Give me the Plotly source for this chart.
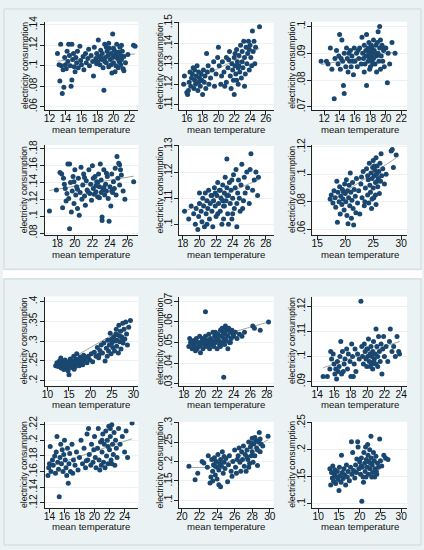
import plotly.graph_objects as go

# ---------------- data ----------------
p1 = [(13.0,.112),(13.2,.101),(13.3,.085),(13.4,.121),(13.5,.100),(13.6,.073),(13.7,.096),(13.8,.079),(13.9,.108),(14.0,.101),
      (14.1,.097),(14.2,.114),(14.3,.104),(14.4,.121),(14.5,.110),(14.6,.100),(14.7,.080),(14.8,.121),(14.8,.086),(14.9,.106),
      (15.0,.112),(15.1,.099),(15.2,.094),(15.3,.108),(15.4,.103),(15.5,.114),(15.6,.098),(15.8,.119),(15.9,.105),(16.0,.101),
      (16.2,.109),(16.3,.096),(16.5,.112),(16.6,.103),(16.8,.107),(17.0,.100),(17.2,.110),(17.4,.104),(17.5,.090),(17.6,.118),
      (17.8,.107),(17.9,.112),(18.0,.104),(18.1,.125),(18.2,.109),(18.3,.101),(18.4,.115),(18.5,.106),(18.6,.112),(18.7,.098),
      (18.8,.076),(18.9,.121),(19.0,.108),(19.1,.103),(19.2,.114),(19.3,.110),(19.4,.099),(19.5,.117),(19.6,.106),(19.7,.112),
      (19.8,.093),(19.9,.131),(19.9,.108),(20.0,.103),(20.1,.115),(20.2,.110),(20.3,.100),(20.4,.121),(20.5,.107),(20.6,.113),
      (20.7,.104),(20.8,.118),(20.9,.101),(20.9,.110),(21.0,.106),(21.1,.114),(21.2,.097),(21.3,.095),(21.3,.109),(21.5,.103),
      (21.8,.111),(22.5,.120),(22.7,.119),(20.2,.094),(19.4,.122),(18.9,.104),(20.6,.098),(17.9,.102),(16.9,.116),(20.0,.117),
      (19.7,.101),(20.4,.109),(20.8,.104),(21.0,.120),(18.4,.108),(19.1,.118),(20.3,.112)]
p2 = [(15.6,.120),(15.7,.124),(16.0,.116),(16.1,.115),(16.2,.117),(16.3,.121),(16.4,.126),(16.5,.119),(16.6,.123),(16.7,.125),
      (16.8,.128),(16.9,.118),(17.0,.122),(17.0,.127),(17.1,.120),(17.2,.124),(17.3,.129),(17.4,.117),(17.5,.121),(17.5,.126),
      (17.6,.123),(17.7,.119),(17.8,.125),(17.9,.122),(18.0,.115),(18.1,.127),(18.2,.121),(18.3,.124),(18.4,.118),(18.5,.135),
      (18.6,.126),(18.7,.129),(18.8,.120),(19.0,.123),(19.2,.127),(19.4,.131),(19.5,.119),(19.7,.125),(19.9,.133),(20.0,.138),
      (20.1,.129),(20.3,.120),(20.5,.131),(20.7,.126),(20.8,.119),(21.0,.133),(21.2,.128),(21.4,.136),(21.5,.124),(21.6,.118),
      (21.7,.130),(21.8,.127),(21.9,.122),(22.0,.133),(22.0,.115),(22.1,.129),(22.2,.125),(22.3,.137),(22.4,.131),(22.5,.120),
      (22.5,.128),(22.6,.134),(22.7,.126),(22.8,.139),(22.9,.123),(23.0,.131),(23.0,.136),(23.1,.128),(23.2,.141),(23.3,.133),
      (23.4,.125),(23.5,.138),(23.6,.130),(23.7,.135),(23.8,.141),(23.9,.127),(24.0,.139),(24.1,.133),(24.2,.129),(24.3,.146),
      (24.4,.136),(24.5,.141),(24.7,.138),(25.2,.148),(22.3,.122),(21.3,.132),(23.3,.119),(22.6,.129),(20.4,.124),(24.6,.130),
      (23.9,.137),(22.1,.135),(21.0,.121)]
p3 = [(11.6,.087),(12.3,.087),(12.5,.086),(12.8,.092),(13.0,.084),(13.3,.073),(13.4,.088),(13.6,.091),(13.8,.086),(13.9,.089),
      (14.0,.097),(14.1,.084),(14.2,.088),(14.3,.095),(14.4,.087),(14.5,.078),(14.6,.075),(14.6,.090),(14.8,.085),(14.9,.092),
      (15.0,.088),(15.1,.083),(15.2,.090),(15.3,.087),(15.4,.091),(15.5,.085),(15.6,.089),(15.8,.082),(15.9,.092),(16.0,.087),
      (16.2,.090),(16.3,.085),(16.5,.088),(16.6,.092),(16.8,.086),(16.9,.096),(17.0,.090),(17.1,.088),(17.2,.093),(17.3,.086),
      (17.4,.091),(17.5,.097),(17.5,.078),(17.6,.089),(17.7,.092),(17.7,.087),(17.8,.094),(17.8,.090),(17.9,.088),(18.0,.091),
      (18.0,.085),(18.1,.093),(18.1,.089),(18.2,.087),(18.2,.092),(18.3,.090),(18.4,.095),(18.4,.088),(18.5,.091),(18.6,.086),
      (18.7,.093),(18.8,.089),(18.9,.094),(19.0,.098),(19.0,.090),(19.1,.087),(19.2,.100),(19.2,.092),(19.3,.084),(19.4,.089),
      (19.5,.093),(19.6,.087),(19.7,.091),(19.8,.085),(20.0,.092),(20.2,.079),(20.3,.090),(20.5,.086),(20.8,.094),(21.2,.090),
      (17.9,.084),(18.6,.090),(17.4,.089),(19.3,.095),(18.3,.086),(17.2,.083),(16.4,.091),(15.7,.087),(19.8,.092),(18.8,.083)]
p4 = [(17.1,.106),(17.9,.131),(18.3,.152),(18.5,.150),(18.6,.110),(18.7,.145),(18.8,.138),(18.9,.133),(19.0,.118),(19.1,.127),
      (19.2,.162),(19.3,.121),(19.4,.085),(19.4,.162),(19.5,.140),(19.6,.105),(19.7,.130),(19.8,.147),(19.9,.115),(20.0,.155),
      (20.1,.125),(20.2,.135),(20.3,.109),(20.4,.145),(20.5,.101),(20.6,.128),(20.7,.158),(20.8,.120),(20.9,.137),(21.0,.150),
      (21.1,.124),(21.2,.113),(21.3,.142),(21.4,.131),(21.6,.155),(21.7,.127),(21.8,.138),(21.9,.119),(22.0,.160),(22.1,.133),
      (22.2,.126),(22.3,.147),(22.4,.129),(22.5,.141),(22.6,.123),(22.7,.150),(22.8,.135),(22.9,.162),(23.0,.128),(23.0,.143),
      (23.1,.095),(23.1,.099),(23.2,.131),(23.3,.155),(23.4,.125),(23.5,.138),(23.6,.130),(23.7,.147),(23.8,.121),(23.9,.094),
      (24.0,.135),(24.1,.112),(24.2,.150),(24.3,.128),(24.4,.141),(24.5,.133),(24.6,.157),(24.7,.125),(24.8,.171),(24.9,.145),
      (25.0,.163),(25.1,.137),(25.2,.155),(25.3,.149),(25.5,.130),(25.7,.120),(26.7,.141),(22.6,.140),(22.1,.145),(23.3,.134),
      (22.8,.122),(24.2,.130),(21.5,.129),(20.3,.132),(25.1,.161),(23.6,.151),(22.4,.136),(19.9,.141),(21.1,.146)]
p5 = [(18.2,.105),(18.7,.102),(19.0,.107),(19.3,.104),(19.5,.100),(19.6,.106),(19.8,.098),(19.9,.103),(20.0,.108),(20.0,.112),
      (20.2,.105),(20.3,.101),(20.4,.110),(20.5,.107),(20.6,.099),(20.7,.112),(20.8,.104),(20.9,.109),(21.0,.106),(21.1,.113),
      (21.2,.102),(21.3,.108),(21.4,.111),(21.5,.105),(21.6,.099),(21.7,.109),(21.8,.114),(21.9,.107),(22.0,.103),(22.1,.111),
      (22.2,.116),(22.3,.108),(22.4,.113),(22.5,.105),(22.6,.110),(22.7,.100),(22.8,.115),(22.9,.107),(23.0,.112),(23.1,.118),
      (23.2,.109),(23.3,.114),(23.3,.125),(23.4,.104),(23.5,.111),(23.6,.116),(23.7,.108),(23.8,.113),(23.9,.102),(24.0,.110),
      (24.1,.119),(24.2,.106),(24.3,.114),(24.4,.121),(24.5,.108),(24.6,.112),(24.7,.117),(24.8,.110),(24.9,.105),(25.0,.115),
      (25.1,.123),(25.3,.109),(25.4,.118),(25.5,.112),(25.7,.120),(25.8,.114),(26.0,.108),(26.1,.121),(26.2,.127),(26.4,.113),
      (26.6,.117),(26.8,.120),(27.0,.111),(27.1,.118),(22.5,.113),(22.9,.102),(23.5,.100),(23.0,.107),(22.2,.104),(24.5,.099),
      (21.9,.112),(20.9,.100),(25.2,.106),(23.9,.117),(22.8,.109),(21.5,.111),(24.0,.104),(23.3,.111)]
p6 = [(17.3,.082),(17.5,.085),(17.8,.079),(18.0,.088),(18.2,.083),(18.3,.076),(18.5,.095),(18.6,.065),(18.7,.087),(18.9,.080),
      (19.0,.091),(19.1,.071),(19.2,.084),(19.4,.078),(19.5,.089),(19.6,.082),(19.8,.074),(19.9,.093),(20.0,.086),(20.1,.080),
      (20.2,.096),(20.3,.070),(20.4,.088),(20.5,.064),(20.6,.083),(20.7,.092),(20.8,.077),(20.9,.101),(21.0,.087),(21.1,.068),
      (21.2,.081),(21.3,.094),(21.4,.075),(21.5,.063),(21.6,.089),(21.8,.084),(22.0,.097),(22.2,.079),(22.4,.088),(22.6,.071),
      (22.8,.093),(23.0,.083),(23.2,.102),(23.4,.077),(23.6,.090),(23.8,.104),(24.0,.085),(24.1,.096),(24.2,.079),(24.3,.108),
      (24.4,.092),(24.5,.087),(24.6,.101),(24.7,.075),(24.8,.097),(24.9,.105),(25.0,.090),(25.0,.110),(25.1,.083),(25.2,.099),
      (25.3,.103),(25.4,.094),(25.5,.112),(25.5,.078),(25.6,.100),(25.7,.106),(25.8,.091),(25.9,.097),(26.0,.102),(26.1,.086),
      (26.2,.108),(26.3,.095),(26.5,.099),(26.7,.104),(27.0,.093),(27.3,.100),(28.2,.117),(28.4,.118),(28.6,.105),(29.1,.114),
      (25.2,.106),(24.8,.082),(25.7,.095),(24.0,.099),(26.4,.115),(23.5,.080),(22.9,.098),(21.9,.072),(19.7,.087),(25.4,.085)]
p7 = [(11.9,.238),(12.2,.245),(12.5,.236),(12.8,.250),(13.0,.242),(13.2,.232),(13.4,.247),(13.6,.239),(13.8,.228),(14.0,.244),
      (14.1,.252),(14.3,.236),(14.5,.241),(14.7,.230),(14.9,.248),(15.0,.215),(15.1,.238),(15.3,.255),(15.5,.243),(15.6,.233),
      (15.8,.249),(16.0,.240),(16.1,.262),(16.3,.246),(16.5,.236),(16.6,.255),(16.8,.268),(17.0,.243),(17.2,.251),(17.4,.238),
      (17.6,.260),(17.8,.247),(18.0,.257),(18.2,.240),(18.4,.264),(18.6,.250),(18.9,.258),(19.2,.245),(19.5,.262),(19.8,.253),
      (20.2,.268),(20.5,.248),(20.9,.272),(21.3,.262),(21.6,.284),(21.9,.258),(22.2,.276),(22.5,.290),(22.8,.270),(23.1,.295),
      (23.4,.250),(23.7,.282),(24.0,.302),(24.2,.275),(24.4,.290),(24.6,.320),(24.8,.268),(25.0,.296),(25.2,.284),(25.4,.310),
      (25.6,.275),(25.8,.300),(26.0,.330),(26.1,.287),(26.3,.315),(26.5,.270),(26.6,.340),(26.8,.298),(27.0,.325),(27.1,.280),
      (27.3,.310),(27.5,.345),(27.6,.295),(27.8,.330),(28.0,.305),(28.2,.348),(28.4,.318),(28.6,.290),(28.9,.335),(29.3,.352),
      (26.9,.312),(25.9,.318),(27.4,.300),(24.9,.305),(26.2,.302),(23.9,.262),(22.0,.265),(14.8,.225),(13.1,.257),(16.2,.229)]
p8 = [(18.6,.048),(18.7,.052),(18.8,.050),(19.0,.047),(19.1,.049),(19.2,.051),(19.3,.048),(19.4,.050),(19.5,.052),(19.6,.047),
      (19.7,.050),(19.8,.048),(19.9,.053),(20.0,.045),(20.0,.050),(20.1,.049),(20.2,.052),(20.3,.047),(20.4,.051),(20.5,.049),
      (20.6,.065),(20.6,.053),(20.7,.048),(20.8,.051),(20.9,.050),(21.0,.054),(21.1,.047),(21.2,.052),(21.3,.049),(21.4,.051),
      (21.5,.055),(21.6,.048),(21.7,.053),(21.8,.050),(21.9,.052),(22.0,.047),(22.1,.054),(22.2,.051),(22.3,.049),(22.4,.056),
      (22.5,.053),(22.6,.050),(22.7,.055),(22.8,.033),(22.8,.052),(22.9,.057),(23.0,.054),(23.1,.051),(23.2,.056),(23.3,.053),
      (23.4,.057),(23.5,.050),(23.6,.055),(23.7,.052),(23.8,.056),(23.9,.054),(24.0,.053),(24.2,.055),(24.4,.052),(24.7,.054),
      (25.0,.053),(25.3,.055),(26.3,.058),(26.5,.057),(27.2,.056),(28.2,.060),(22.0,.052),(21.5,.050),(22.9,.049),(23.3,.047),
      (20.5,.052),(19.4,.046),(21.8,.055),(22.6,.057),(23.6,.050),(21.0,.049),(22.4,.048),(23.0,.058)]
p9 = [(14.7,.092),(15.2,.092),(15.5,.095),(15.6,.102),(15.7,.099),(15.9,.101),(16.0,.097),(16.1,.093),(16.2,.095),(16.3,.091),
      (16.4,.098),(16.5,.094),(16.6,.096),(16.7,.100),(16.8,.106),(16.9,.093),(17.0,.102),(17.2,.097),(17.3,.099),(17.5,.103),
      (17.6,.095),(17.7,.101),(17.9,.098),(18.0,.092),(18.1,.105),(18.2,.100),(18.4,.097),(18.5,.103),(18.6,.094),(18.8,.101),
      (19.0,.099),(19.2,.122),(19.3,.104),(19.4,.100),(19.5,.097),(19.6,.105),(19.7,.102),(19.8,.099),(19.9,.096),(20.0,.103),
      (20.0,.100),(20.1,.107),(20.2,.098),(20.3,.101),(20.4,.104),(20.5,.097),(20.5,.100),(20.6,.102),(20.7,.106),(20.8,.099),
      (20.9,.101),(21.0,.111),(21.0,.097),(21.1,.104),(21.2,.100),(21.3,.108),(21.4,.102),(21.5,.098),(21.6,.105),(21.7,.093),
      (21.8,.103),(21.9,.108),(22.0,.100),(22.2,.104),(22.4,.098),(22.6,.106),(22.7,.111),(22.9,.102),(23.1,.104),(23.3,.100),
      (23.5,.108),(23.7,.102),(23.8,.101),(20.3,.096),(20.7,.098),(21.2,.096),(19.9,.103),(20.6,.095),(18.3,.092),(17.1,.094)]
p10 = [(13.8,.155),(13.9,.165),(14.0,.170),(14.1,.192),(14.2,.160),(14.4,.175),(14.5,.168),(14.7,.180),(14.8,.158),(14.9,.185),
       (15.0,.205),(15.1,.172),(15.2,.163),(15.3,.128),(15.4,.178),(15.5,.195),(15.6,.170),(15.7,.188),(15.8,.160),(15.9,.182),
       (16.0,.200),(16.1,.175),(16.2,.165),(16.3,.155),(16.4,.190),(16.5,.145),(16.6,.170),(16.7,.183),(16.8,.160),(17.0,.195),
       (17.2,.175),(17.4,.168),(17.6,.185),(17.8,.162),(18.0,.178),(18.2,.200),(18.4,.170),(18.6,.190),(18.8,.165),(19.0,.208),
       (19.1,.175),(19.2,.215),(19.3,.182),(19.5,.168),(19.6,.195),(19.8,.172),(20.0,.205),(20.1,.178),(20.2,.165),(20.4,.190),
       (20.5,.215),(20.6,.175),(20.8,.198),(20.9,.168),(21.0,.185),(21.1,.208),(21.2,.172),(21.3,.195),(21.4,.165),(21.5,.212),
       (21.6,.180),(21.7,.200),(21.8,.170),(21.9,.218),(22.0,.188),(22.1,.205),(22.2,.175),(22.3,.220),(22.4,.195),(22.5,.182),
       (22.6,.210),(22.7,.168),(22.8,.200),(22.9,.190),(23.0,.178),(23.2,.215),(23.4,.195),(23.7,.205),(24.0,.185),(24.2,.212),
       (24.4,.178),(25.0,.222),(21.0,.200),(22.1,.215),(19.9,.188),(18.9,.174),(17.1,.158),(20.7,.162),(21.8,.192),(22.3,.170)]
p11 = [(20.8,.188),(21.5,.153),(21.8,.170),(22.3,.200),(22.5,.196),(22.9,.185),(23.0,.215),(23.2,.145),(23.3,.160),(23.4,.205),
       (23.5,.175),(23.5,.150),(23.6,.192),(23.7,.210),(23.8,.165),(23.9,.200),(24.0,.185),(24.0,.155),(24.1,.218),(24.2,.178),
       (24.2,.140),(24.3,.195),(24.4,.205),(24.4,.135),(24.5,.188),(24.6,.225),(24.7,.170),(24.8,.198),(24.9,.182),(25.0,.208),
       (25.2,.148),(25.3,.192),(25.4,.215),(25.6,.175),(25.8,.200),(26.0,.230),(26.1,.185),(26.2,.170),(26.4,.215),(26.5,.235),
       (26.6,.198),(26.7,.175),(26.8,.225),(26.9,.205),(27.0,.240),(27.1,.188),(27.2,.218),(27.3,.175),(27.4,.230),(27.5,.205),
       (27.6,.250),(27.7,.195),(27.8,.238),(27.9,.215),(28.0,.260),(28.0,.225),(28.1,.198),(28.2,.245),(28.3,.215),(28.4,.255),
       (28.5,.235),(28.6,.190),(28.7,.250),(28.8,.275),(28.9,.225),(29.0,.245),(29.2,.240),(29.8,.265),(28.3,.262),(27.9,.248),
       (27.4,.212),(28.6,.230),(26.3,.205),(24.8,.213),(23.8,.188),(25.7,.162),(27.6,.185),(28.9,.258)]
p12 = [(12.8,.165),(13.0,.135),(13.2,.158),(13.4,.148),(13.5,.170),(13.7,.142),(13.9,.155),(14.0,.163),(14.2,.138),(14.4,.150),
       (14.6,.160),(14.8,.145),(15.0,.125),(15.1,.168),(15.3,.152),(15.5,.140),(15.6,.190),(15.8,.158),(16.0,.147),(16.2,.165),
       (16.4,.153),(16.6,.135),(16.8,.172),(17.0,.150),(17.2,.160),(17.5,.143),(17.8,.168),(18.0,.215),(18.1,.155),(18.3,.195),
       (18.5,.162),(18.8,.148),(19.0,.172),(19.2,.158),(19.5,.215),(19.6,.205),(19.8,.165),(20.0,.178),(20.2,.155),(20.4,.185),
       (20.5,.105),(20.6,.168),(20.8,.150),(21.0,.195),(21.2,.175),(21.3,.160),(21.4,.205),(21.6,.182),(21.8,.168),(22.0,.190),
       (22.1,.155),(22.2,.178),(22.4,.200),(22.5,.165),(22.7,.225),(22.8,.185),(23.0,.172),(23.1,.158),(23.3,.195),(23.5,.180),
       (23.7,.165),(23.9,.188),(24.1,.155),(24.3,.175),(24.5,.168),(24.8,.220),(25.0,.180),(25.3,.170),(25.8,.190),(26.2,.185),
       (26.8,.182),(21.5,.150),(22.9,.150),(20.9,.140),(23.6,.150),(19.3,.183),(21.9,.210),(22.6,.175),(20.3,.170),(24.0,.160)]

# fitted lines
fit_x = [[13.0,22.7],[15.6,25.2],[11.6,21.2],[17.1,26.7],[18.2,27.1],[17.3,29.1],
         [11.9,29.3],[18.6,28.2],[14.7,23.8],[13.8,25.0],
         [20.7,22.0,23.0,24.0,25.0,26.0,27.0,28.0,29.0,29.8],[12.8,26.8]]
fit_y = [[.1045,.1115],[.1195,.1375],[.0858,.0905],[.1305,.1475],[.1050,.1170],[.0800,.1120],
         [.2330,.3420],[.0490,.0600],[.0955,.1060],[.1660,.2020],
         [.185,.184,.184,.188,.196,.207,.219,.232,.246,.256],[.1500,.1820]]

# tick values and labels
x_ticks = [[12,14,16,18,20,22],[16,18,20,22,24,26],[12,14,16,18,20,22],
           [18,20,22,24,26],[18,20,22,24,26,28],[15,20,25,30],
           [10,15,20,25,30],[18,20,22,24,26,28],[14,16,18,20,22,24],
           [14,16,18,20,22,24],[20,22,24,26,28,30],[10,15,20,25,30]]
y_ticks = [[.06,.08,.1,.12,.14],[.11,.12,.13,.14,.15],[.07,.08,.09,.1],
           [.08,.1,.12,.14,.16,.18],[.1,.11,.12,.13],[.06,.08,.1,.12],
           [.2,.25,.3,.35,.4],[.03,.04,.05,.06,.07],[.09,.1,.11,.12],
           [.12,.14,.16,.18,.2,.22],[.1,.15,.2,.25,.3],[.1,.15,.2,.25]]
y_labels = [[".06",".08",".1",".12",".14"],[".11",".12",".13",".14",".15"],[".07",".08",".09",".1"],
            [".08",".1",".12",".14",".16",".18"],[".1",".11",".12",".13"],[".06",".08",".1",".12"],
            [".2",".25",".3",".35",".4"],[".03",".04",".05",".06",".07"],[".09",".1",".11",".12"],
            [".12",".14",".16",".18",".2",".22"],[".1",".15",".2",".25",".3"],[".1",".15",".2",".25"]]
x_title = "mean temperature"
y_title = "electricity consumption"

# ---------------- layout geometry ----------------
W, H = 424, 550
x_ranges = [[11.38,23.11],[15.0,27.0],[10.46,22.77],[16.54,27.24],[17.52,28.95],[14.12,31.06],
            [9.31,31.15],[17.4,28.83],[13.41,24.71],[13.34,25.84],[19.66,30.45],[8.57,31.43]]
y_ranges = [[.0571,.1429],[.1076,.1505],[.0689,.1018],[.0777,.1846],[.0959,.1304],[.0558,.1214],
            [.1877,.4123],[.0290,.0724],[.0884,.1239],[.1137,.2237],[.0807,.3024],[.0928,.2518]]
cols_px = [(42,137),(178,274),(313,409)]
rows_px = [(14,104),(140,232),(295,386),(423,511)]
xtitle_py = [124.5,251.5,405.5,530]
ytitle_px = [21.5,158.5,292.5]

def px(v): return v / W
def py(v): return 1 - v / H

NAVY = "#1A476F"
BG = "#EAF2F3"
FONT = "Liberation Sans, Arial, sans-serif"

fig = go.Figure()
panels = [p1,p2,p3,p4,p5,p6,p7,p8,p9,p10,p11,p12]
layout = {}
annotations = []
for i, pts in enumerate(panels):
    r, c = divmod(i, 3)
    n = "" if i == 0 else str(i + 1)
    xs = [p[0] for p in pts]
    ys = [p[1] for p in pts]
    fig.add_trace(go.Scatter(x=fit_x[i], y=fit_y[i], mode="lines",
                             line=dict(color="#a3a89f", width=1),
                             xaxis="x" + n, yaxis="y" + n, showlegend=False, hoverinfo="skip"))
    fig.add_trace(go.Scatter(x=xs, y=ys, mode="markers",
                             marker=dict(color=NAVY, size=5, line=dict(width=0)),
                             xaxis="x" + n, yaxis="y" + n, showlegend=False))
    x0, x1 = cols_px[c]
    t, b = rows_px[r]
    layout["xaxis" + n] = dict(domain=[px(x0), px(x1)], range=x_ranges[i], anchor="y" + n,
                               tickvals=x_ticks[i], ticktext=[str(v) for v in x_ticks[i]],
                               tickangle=0, ticklabelstandoff=-5,
                               showline=True, linecolor="#222", linewidth=1,
                               ticks="outside", ticklen=4, tickcolor="#222",
                               showgrid=False, zeroline=False,
                               tickfont=dict(family=FONT, size=10.2, color="#111"))
    layout["yaxis" + n] = dict(domain=[py(b), py(t)], range=y_ranges[i], anchor="x" + n,
                               tickvals=y_ticks[i], ticktext=y_labels[i], tickangle=-90,
                               ticklabelstandoff=-2,
                               showline=True, linecolor="#222", linewidth=1,
                               ticks="outside", ticklen=4, tickcolor="#222",
                               showgrid=True, gridcolor=BG, gridwidth=1, zeroline=False,
                               tickfont=dict(family=FONT, size=10.2, color="#111"))
    annotations.append(dict(text=x_title, xref="paper", yref="paper",
                            x=px((x0 + x1) / 2), y=py(xtitle_py[r]), showarrow=False,
                            xanchor="center", yanchor="middle",
                            font=dict(family=FONT, size=9.6, color="#111")))
    annotations.append(dict(text=y_title, xref="paper", yref="paper", textangle=-90,
                            x=px(ytitle_px[c]), y=py((t + b) / 2), showarrow=False,
                            xanchor="center", yanchor="middle",
                            font=dict(family=FONT, size=8.6, color="#111")))

shapes = [
    dict(type="rect", xref="paper", yref="paper", x0=0, x1=1, y0=py(276), y1=py(268),
         fillcolor="white", line=dict(width=0), layer="below"),
    dict(type="rect", xref="paper", yref="paper", x0=px(1), x1=px(423), y0=py(267), y1=py(1),
         fillcolor="rgba(0,0,0,0)", line=dict(color="#cfd8da", width=1), layer="below"),
    dict(type="rect", xref="paper", yref="paper", x0=px(1), x1=px(423), y0=py(549), y1=py(277),
         fillcolor="rgba(0,0,0,0)", line=dict(color="#cfd8da", width=1), layer="below"),
]

fig.update_layout(width=W, height=H, margin=dict(l=0, r=0, t=0, b=0), autosize=False,
                  paper_bgcolor=BG, plot_bgcolor="white",
                  annotations=annotations, shapes=shapes, **layout)
fig.write_html("out.html", config={"displayModeBar": False},
               post_script="document.body.style.margin='0px';"
                           "document.body.style.overflow='hidden';"
                           "document.documentElement.style.overflow='hidden';")
